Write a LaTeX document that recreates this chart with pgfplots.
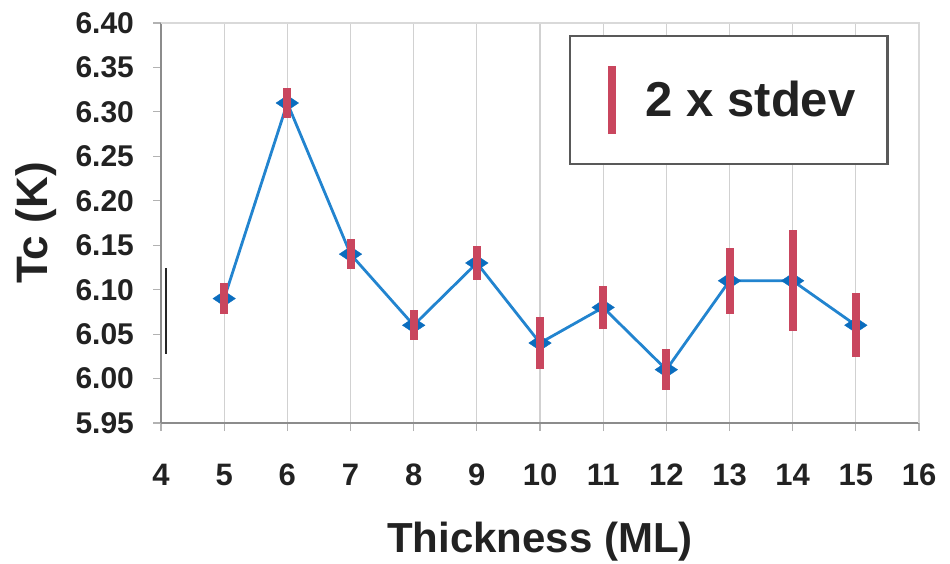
\documentclass[border=0pt]{standalone}
\usepackage{fontspec}
\setmainfont{Liberation Sans}
\usepackage{pgfplots}
\pgfplotsset{compat=1.18}
\definecolor{tcblue}{HTML}{2284CF}
\definecolor{mkblue}{HTML}{0B6DBE}
\definecolor{errred}{HTML}{C9465E}
\definecolor{txt}{HTML}{222222}

\begin{document}
\begin{tikzpicture}
\begin{axis}[
  scale only axis, width=379pt, height=200pt,
  xmin=4, xmax=16, ymin=5.95, ymax=6.40,
  xtick={4,...,16}, ytick={5.95,6.00,...,6.41},
  axis lines=left, axis line style={-, draw=black!45, line width=1pt},
  xmajorgrids, grid style={black!18, line width=0.6pt},
  tick style={black!30, line width=0.6pt}, tick align=outside, major tick length=4pt,
  clip mode=individual,
  /pgf/number format/assume math mode=true,
  y tick label style={/pgf/number format/fixed, /pgf/number format/fixed zerofill,
    /pgf/number format/precision=2},
  ticklabel style={text=txt, font=\bfseries},
  yticklabel style={font=\bfseries\fontsize{15}{18}\selectfont, xshift=-6pt},
  xticklabel style={font=\bfseries\fontsize{15.5}{18}\selectfont, yshift=-13pt},
  xlabel={Thickness (ML)}, ylabel={Tc (K)},
  xlabel style={font=\bfseries\fontsize{21}{24}\selectfont, text=txt, yshift=-11pt},
  ylabel style={font=\bfseries\fontsize{22}{26}\selectfont, text=txt, yshift=2.5pt},
  legend style={at={(0.96,0.97)}, anchor=north east, draw=black!65, line width=1.2pt,
    fill=white, inner xsep=16pt, inner ysep=10pt, nodes={inner sep=0pt},
    font=\bfseries\fontsize{24.5}{28}\selectfont, text=txt},
  legend image code/.code={\path (-5pt,-22pt) rectangle (17pt,22pt);
    \draw[line width=4pt, errred] (0pt,-17pt) -- (0pt,17pt);},
]
% stray marker line near the left axis in the original
\addplot[forget plot, black!85, line width=1pt] coordinates {(4.08,6.028) (4.08,6.124)};
\addplot[forget plot, tcblue, line width=1.4pt, mark=diamond*,
  mark size=3.75pt, mark options={xscale=2, fill=mkblue, draw=mkblue, line width=0.2pt}]
  table {
x y
5 6.09
6 6.31
7 6.14
8 6.06
9 6.13
10 6.04
11 6.08
12 6.01
13 6.11
14 6.11
15 6.06
};
\addplot[draw=none, mark=none,
  error bars/.cd, y dir=both, y explicit,
  error bar style={line width=4pt, errred}, error mark=none]
  table[y error=e] {
x y e
5 6.09 0.017
6 6.31 0.017
7 6.14 0.017
8 6.06 0.017
9 6.13 0.019
10 6.04 0.029
11 6.08 0.024
12 6.01 0.023
13 6.11 0.037
14 6.11 0.057
15 6.06 0.036
};
\addlegendentry{2 x stdev}
\draw[black!15, line width=1.4pt] (rel axis cs:0,1) -- (rel axis cs:1,1) -- (rel axis cs:1,0);
\end{axis}
\pgfresetboundingbox
\path ([shift={(-80.5pt,-70pt)}]current axis.south west) rectangle ([shift={(15.5pt,11.5pt)}]current axis.north east);
\end{tikzpicture}
\end{document}
